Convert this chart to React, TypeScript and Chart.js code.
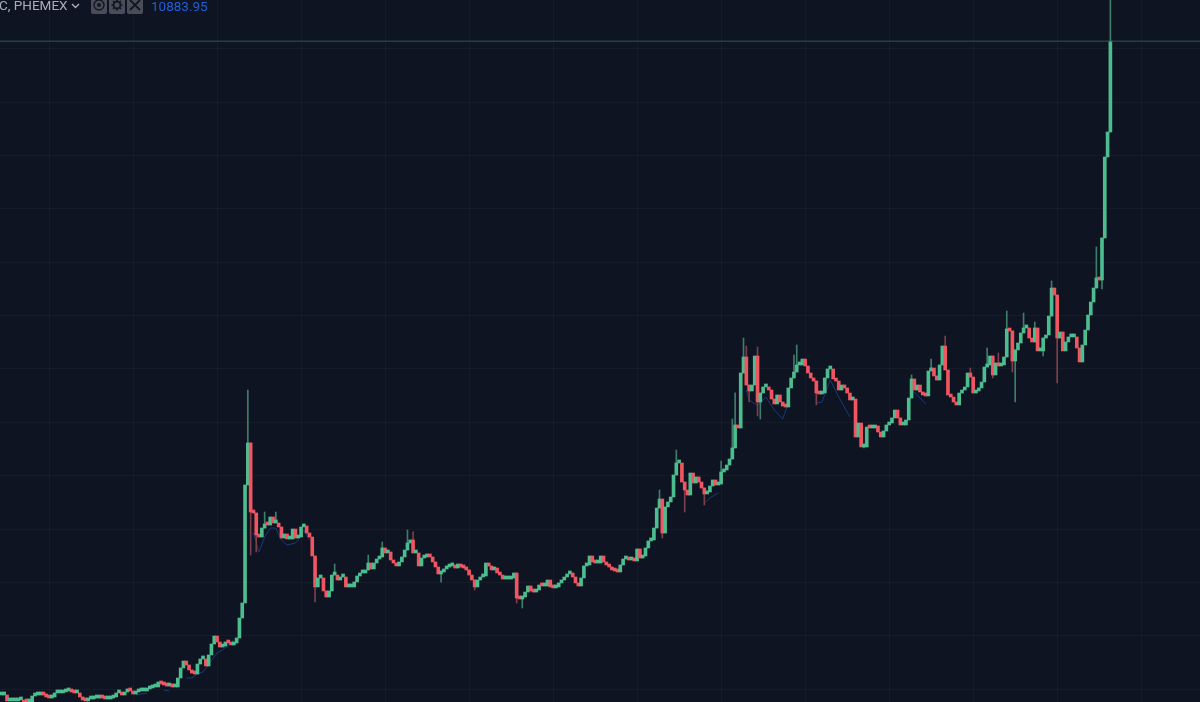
import React, { useEffect, useRef } from 'react';
import { Chart, registerables } from 'chart.js';

Chart.register(...registerables);

const symbolLabel = 'C, PHEMEX';
const lastPrice = 10883.95;

// closing prices, one per candle
const closes = [
  3537, 3537, 3470, 3470, 3470, 3470, 3481, 3481, 3447, 3436,
  3447, 3526, 3537, 3537, 3548, 3537, 3515, 3503, 3515, 3560,
  3560, 3560, 3571, 3582, 3593, 3571, 3560, 3560, 3515, 3481,
  3470, 3492, 3492, 3503, 3503, 3515, 3503, 3492, 3492, 3503,
  3515, 3560, 3571, 3537, 3571, 3605, 3582, 3548, 3571, 3582,
  3582, 3582, 3605, 3616, 3627, 3627, 3683, 3661, 3650, 3638,
  3638, 3627, 3627, 3728, 3841, 3919, 3874, 3818, 3784, 3773,
  3885, 3942, 3942, 3863, 3987, 4110, 4200, 4133, 4076, 4088,
  4133, 4121, 4099, 4121, 4178, 4402, 4571, 5897, 6369, 5593,
  5582, 5335, 5312, 5413, 5458, 5447, 5537, 5470, 5470, 5425,
  5301, 5346, 5290, 5290, 5402, 5301, 5312, 5425, 5436, 5357,
  5312, 5099, 4751, 4852, 4852, 4706, 4638, 4706, 4885, 4885,
  4829, 4863, 4863, 4751, 4751, 4751, 4807, 4874, 4908, 4908,
  4942, 5020, 4953, 5020, 5065, 5088, 5189, 5133, 5144, 5054,
  5020, 4987, 5032, 5088, 5166, 5245, 5279, 5133, 5133, 4987,
  5076, 5088, 5110, 5088, 5032, 4975, 4897, 4919, 4953, 4975,
  4987, 4987, 4964, 5009, 4975, 4964, 4942, 4885, 4829, 4751,
  4829, 4863, 4874, 5020, 4987, 4942, 4964, 4908, 4885, 4840,
  4840, 4840, 4852, 4908, 4627, 4616, 4638, 4694, 4762, 4706,
  4694, 4717, 4773, 4762, 4762, 4829, 4751, 4740, 4751, 4796,
  4829, 4863, 4897, 4908, 4863, 4796, 4762, 4852, 4987, 4998,
  5099, 5032, 5020, 5020, 5099, 5032, 4998, 4975, 4942, 4930,
  4919, 4998, 5065, 5065, 5054, 5054, 5043, 5178, 5076, 5099,
  5189, 5268, 5279, 5413, 5638, 5739, 5357, 5650, 5706, 5762,
  6009, 6144, 6144, 5930, 5840, 5784, 6031, 5919, 5987, 5930,
  5863, 5796, 5818, 5885, 5953, 5897, 5908, 6043, 6065, 6121,
  6189, 6313, 6571, 6537, 7155, 7335, 7020, 6953, 7020, 7346,
  6829, 6930, 6998, 6998, 6964, 6863, 6807, 6908, 6829, 6784,
  6773, 6987, 7099, 7166, 7245, 7245, 7312, 7234, 7155, 7099,
  7065, 6930, 6919, 6930, 7099, 7200, 7200, 7088, 7065, 6964,
  7020, 6987, 6930, 6852, 6863, 6436, 6593, 6324, 6324, 6548,
  6537, 6537, 6560, 6492, 6436, 6503, 6571, 6593, 6650, 6739,
  6650, 6571, 6571, 6627, 6874, 7088, 6964, 7020, 6942, 6908,
  6897, 7178, 7211, 7122, 7076, 7245, 7458, 7189, 6908, 6885,
  6829, 6796, 6930, 6964, 6998, 7155, 7110, 6930, 6953, 6987,
  7054, 7222, 7245, 7346, 7133, 7268, 7234, 7245, 7335, 7650,
  7627, 7290, 7414, 7492, 7605, 7661, 7661, 7548, 7504, 7661,
  7403, 7403, 7548, 7582, 7795, 8110, 8031, 7548, 7616, 7403,
  7504, 7560, 7560, 7560, 7436, 7279, 7470, 7638, 7807, 7953,
  8110, 8223, 8200, 8672, 9582, 9863, lastPrice,
];
const firstOpen = 3537;

// candles with a wick that sticks out of the body
const highIndex = [88, 94, 98, 119, 131, 136, 145, 147, 235, 241, 257, 261, 262, 265, 266, 270, 283, 284, 325, 332, 337, 346, 352, 356, 359, 365, 369, 375, 391, 396];
const highPrice = [6964, 5593, 5593, 5009, 5110, 5256, 5391, 5369, 5840, 6290, 6166, 6638, 6931, 7548, 7458, 7447, 7357, 7470, 7133, 7312, 7571, 7211, 7436, 7380, 7852, 7829, 7728, 8189, 8571, 11400];
const lowIndex = [89, 91, 112, 157, 169, 184, 186, 236, 244, 251, 267, 270, 271, 291, 308, 354, 361, 362, 372, 377, 393];
const lowPrice = [5110, 5144, 4582, 4806, 4717, 4571, 4515, 5301, 5593, 5672, 6829, 6672, 6638, 6796, 6312, 7099, 7166, 6829, 7346, 7043, 8099];

// dark blue indicator line, only where it shows below the candles
const blueIndex = [48, 52, 58, 60, 66, 68, 70, 72, 77, 79, 81, 83, 90, 92, 94, 96, 98, 100, 102, 105, 106, 108, 110, 251, 253, 256, 266, 267, 270, 273, 276, 279, 281, 291, 293, 296, 299, 303, 326, 330];
const bluePrice = [3537, 3560, 3593, 3582, 3728, 3728, 3773, 3796, 4009, 4043, 4099, 4155, 5357, 5144, 5312, 5413, 5413, 5279, 5222, 5245, 5279, 5391, 5279, 5695, 5752, 5807, 6964, 6852, 6790, 6885, 6739, 6638, 6818, 6818, 6829, 7076, 6885, 6661, 6942, 6807];

const priceTicks = [3600, 4200, 4800, 5400, 6000, 6600, 7200, 7800, 8400, 9000, 9600, 10200, 10800];
const timeTicks = [17, 47, 77, 107, 137, 167, 197, 227, 257, 287, 317, 347, 377, 407];

const GREEN = '#4dbd90';
const RED = '#ef5662';
const GREEN_WICK = '#3f7d6b';
const RED_WICK = '#7d3f49';
const BACKGROUND = '#0e1421';
const GRID = 'rgba(255,255,255,0.032)';

const App: React.FC = () => {
  const chartRef = useRef<HTMLCanvasElement>(null);

  useEffect(() => {
    const ctx = chartRef.current?.getContext('2d');
    if (!ctx) return;

    const opens = closes.map((_, i) => (i === 0 ? firstOpen : closes[i - 1]));
    const isUp = closes.map((c, i) => c >= opens[i]);

    const wickIndexes = [...new Set([...highIndex, ...lowIndex])].sort((a, b) => a - b);
    const wicks = wickIndexes.map(i => {
      const h = highIndex.indexOf(i);
      const l = lowIndex.indexOf(i);
      const top = Math.max(opens[i], closes[i], h >= 0 ? highPrice[h] : 0);
      const bottom = Math.min(opens[i], closes[i], l >= 0 ? lowPrice[l] : Infinity);
      return { x: i, y: [bottom, top] };
    });

    const chart = new Chart(ctx, {
      type: 'bar',
      data: {
        datasets: [
          {
            label: 'Last',
            type: 'line',
            data: [{ x: -0.5, y: lastPrice }, { x: 428, y: lastPrice }],
            borderColor: '#2b5a5c',
            borderWidth: 1,
            pointRadius: 0,
            order: 0,
          },
          {
            label: 'Body',
            data: closes.map((c, i) => ({ x: i, y: [opens[i], c] })),
            backgroundColor: isUp.map(u => (u ? GREEN : RED)),
            barThickness: 3,
            minBarLength: 3,
            grouped: false,
            order: 1,
          },
          {
            label: 'Wick',
            data: wicks,
            backgroundColor: wicks.map(w => (isUp[w.x] ? GREEN_WICK : RED_WICK)),
            barThickness: 1,
            grouped: false,
            order: 2,
          },
          {
            label: 'Indicator',
            type: 'line',
            data: blueIndex.map((x, i) => ({ x, y: bluePrice[i] })),
            borderColor: '#1b3a78',
            borderWidth: 1,
            pointRadius: 0,
            spanGaps: 5,
            order: 3,
          },
        ] as any,
      },
      options: {
        responsive: false,
        animation: false,
        events: [],
        layout: { padding: 0 },
        plugins: { legend: { display: false }, tooltip: { enabled: false } },
        scales: {
          x: {
            type: 'linear',
            min: -0.5,
            max: 428,
            offset: false,
            border: { display: false },
            grid: { color: GRID, drawTicks: false, offset: false },
            ticks: { display: false },
            afterBuildTicks: (scale: any) => {
              scale.ticks = timeTicks.map(value => ({ value }));
            },
            afterFit: (scale: any) => {
              scale.height = 0;
            },
          },
          y: {
            type: 'linear',
            min: 3458.3,
            max: 11346.1,
            border: { display: false },
            grid: { color: GRID, drawTicks: false },
            ticks: { display: false },
            afterBuildTicks: (scale: any) => {
              scale.ticks = priceTicks.map(value => ({ value }));
            },
            afterFit: (scale: any) => {
              scale.width = 0;
            },
          },
        },
      } as any,
    });

    return () => chart.destroy();
  }, []);

  const iconBox: React.CSSProperties = {
    position: 'absolute',
    top: -2,
    width: 16,
    height: 16,
    borderRadius: 2,
    background: '#4a4d59',
  };

  return (
    <div style={{ position: 'absolute', left: 0, top: 0, width: 1200, height: 702, overflow: 'hidden', background: BACKGROUND }}>
      <canvas ref={chartRef} width={1200} height={702} style={{ display: 'block' }}></canvas>
      <div style={{ position: 'absolute', left: -1, top: -3, font: '13.5px Roboto, sans-serif', color: '#a9adb8', whiteSpace: 'nowrap' }}>
        {symbolLabel}
      </div>
      <svg style={{ position: 'absolute', left: 71, top: 3 }} width="9" height="6" viewBox="0 0 9 6">
        <path d="M1 1 L4.5 4.5 L8 1" fill="none" stroke="#a9adb8" strokeWidth="1.4" />
      </svg>
      <div style={{ ...iconBox, left: 91 }}>
        <svg width="16" height="16" viewBox="0 0 16 16" style={{ display: 'block' }}>
          <circle cx="8" cy="7" r="5" fill="none" stroke="#14181f" strokeWidth="1.5" />
          <circle cx="8" cy="7" r="2" fill="#14181f" />
        </svg>
      </div>
      <div style={{ ...iconBox, left: 109 }}>
        <svg width="16" height="16" viewBox="0 0 16 16" style={{ display: 'block' }}>
          <circle cx="8" cy="7" r="3.5" fill="none" stroke="#14181f" strokeWidth="2" />
          <path d="M8 1.5 V3 M8 11 V12.5 M2.5 7 H4 M12 7 H13.5 M4 3 L5 4 M11 10 L12 11 M12 3 L11 4 M5 10 L4 11" stroke="#14181f" strokeWidth="1.6" />
        </svg>
      </div>
      <div style={{ ...iconBox, left: 127 }}>
        <svg width="16" height="16" viewBox="0 0 16 16" style={{ display: 'block' }}>
          <path d="M3 2 L13 12 M13 2 L3 12" stroke="#14181f" strokeWidth="2" />
        </svg>
      </div>
      <div style={{ position: 'absolute', left: 151, top: -2, font: '13.5px Roboto, sans-serif', color: '#1f5fd8', whiteSpace: 'nowrap' }}>
        {lastPrice.toFixed(2)}
      </div>
    </div>
  );
};

export default App;
